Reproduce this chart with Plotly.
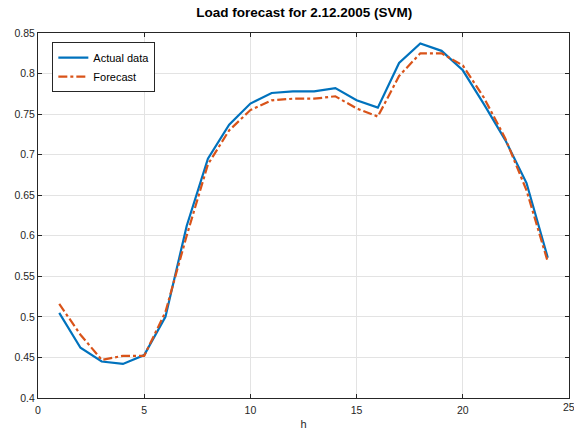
import plotly.graph_objects as go

hours = list(range(1, 25))
actual = [0.505, 0.462, 0.445, 0.442, 0.453, 0.500, 0.612, 0.695, 0.737, 0.763,
          0.776, 0.778, 0.778, 0.782, 0.767, 0.758, 0.813, 0.837, 0.828, 0.804,
          0.762, 0.718, 0.665, 0.573]
forecast = [0.516, 0.478, 0.447, 0.452, 0.452, 0.506, 0.600, 0.688, 0.730, 0.755,
            0.767, 0.769, 0.769, 0.772, 0.757, 0.747, 0.797, 0.825, 0.825, 0.810,
            0.770, 0.720, 0.656, 0.568]
x_ticks = [0, 5, 10, 15, 20, 25]
y_ticks = [0.4, 0.45, 0.5, 0.55, 0.6, 0.65, 0.7, 0.75, 0.8, 0.85]
y_tick_labels = ["0.4", "0.45", "0.5", "0.55", "0.6", "0.65", "0.7", "0.75", "0.8", "0.85"]

fig = go.Figure()
fig.add_trace(go.Scatter(x=hours, y=actual, mode="lines", name="Actual data",
                         line=dict(color="#0072BD", width=2.2)))
fig.add_trace(go.Scatter(x=hours, y=forecast, mode="lines", name="Forecast",
                         line=dict(color="#D95319", width=2.2, dash="dashdot")))

tick_font = dict(family="Arial", size=10.5, color="#262626")
axis_common = dict(showline=True, linecolor="#262626", linewidth=1, mirror="ticks",
                   ticks="inside", ticklen=4, tickcolor="#262626", automargin=False,
                   showgrid=True, gridcolor="#E3E3E3", gridwidth=1, zeroline=False,
                   tickfont=tick_font)

fig.update_layout(
    width=574, height=430,
    margin=dict(l=38, r=5, t=33, b=32),
    paper_bgcolor="white", plot_bgcolor="white",
    title=dict(text="<b>Load forecast for 2.12.2005 (SVM)</b>", x=0.53, xanchor="center",
               y=0.972, yanchor="middle", yref="container", automargin=False,
               font=dict(family="Arial", size=13.5, color="black")),
    xaxis=dict(range=[0, 25], tickvals=x_ticks, ticklabelstandoff=2,
               title=dict(text="h", standoff=7,
               font=dict(family="Arial", size=11, color="#262626")), **axis_common),
    yaxis=dict(range=[0.4, 0.85], tickvals=y_ticks, ticktext=y_tick_labels, **axis_common),
    legend=dict(x=0.027, y=0.975, xanchor="left", yanchor="top",
                bgcolor="white", bordercolor="#262626", borderwidth=1,
                font=dict(family="Arial", size=11, color="black"),
                tracegroupgap=0, itemwidth=30),
    showlegend=True,
)

# last x tick label sits at the figure edge and is dropped by plotly; show it as text
fig.add_annotation(x=x_ticks[-1], y=0, xref="x", yref="paper", text=str(x_ticks[-1]),
                   showarrow=False, yanchor="top", xanchor="center", yshift=-1,
                   font=tick_font)

fig.write_html("out.html", config={"displayModeBar": False},
               post_script="document.body.style.margin='0';document.body.style.padding='0';document.body.style.overflow='hidden';")
